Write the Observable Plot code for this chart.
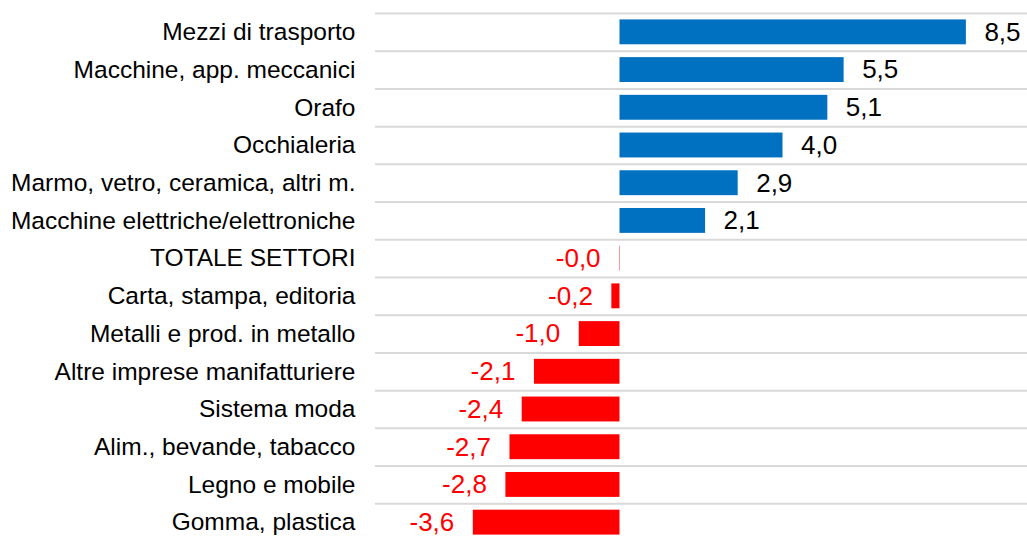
<!DOCTYPE html>
<html>
<head>
<meta charset="utf-8">
<script src="https://cdn.jsdelivr.net/npm/d3@7"></script>
<script src="https://cdn.jsdelivr.net/npm/@observablehq/plot@0.6"></script>
<style>
  html, body { margin: 0; padding: 0; background: #fff; overflow: hidden; }
  svg { display: block; }
</style>
</head>
<body>
<div id="chart"></div>
<script>
const categories = [
  "Mezzi di trasporto",
  "Macchine, app. meccanici",
  "Orafo",
  "Occhialeria",
  "Marmo, vetro, ceramica, altri m.",
  "Macchine elettriche/elettroniche",
  "TOTALE SETTORI",
  "Carta, stampa, editoria",
  "Metalli e prod. in metallo",
  "Altre imprese manifatturiere",
  "Sistema moda",
  "Alim., bevande, tabacco",
  "Legno e mobile",
  "Gomma, plastica"
];
const values = [8.5, 5.5, 5.1, 4.0, 2.9, 2.1, -0.01, -0.2, -1.0, -2.1, -2.4, -2.7, -2.8, -3.6];

const data = categories.map((c, i) => ({category: c, value: values[i]}));
const fmt = v => v.toFixed(1).replace(".", ",");
const blue = "#0070C0", red = "#FF0000";
const yTop = 13, yBottom = 541;
const step = (yBottom - yTop) / categories.length;

const chart = Plot.plot({
  width: 1027,
  height: 536,
  marginLeft: 375,
  marginRight: 0,
  marginTop: 13,
  marginBottom: 0,
  style: {fontFamily: "'Liberation Sans', Arial, sans-serif", fontSize: "24px", background: "#fff"},
  x: {domain: [-6, 10], axis: null},
  y: {domain: categories, range: [yTop, yBottom], round: false, paddingInner: 0.34, paddingOuter: 0.17, label: null, axis: null},
  marks: [
    Plot.ruleY(categories, {y: d => d, dy: -step / 2, stroke: "#d9d9d9", strokeWidth: 2}),
    Plot.barX(data, {x: "value", y: "category", fill: d => d.value >= 0 ? blue : red}),
    Plot.ruleX([0], {y1: yTop, y2: yBottom, stroke: "#d9d9d9", strokeWidth: 2.5}),
    Plot.axisY({tickSize: 0, tickPadding: 20, fontSize: 24.5, fill: "#000", label: null}),
    Plot.text(data.filter(d => d.value >= 0), {x: "value", y: "category", text: d => fmt(d.value), textAnchor: "start", dx: 18, fill: "#000", fontSize: 26}),
    Plot.text(data.filter(d => d.value < 0), {x: "value", y: "category", text: d => fmt(d.value), textAnchor: "end", dx: -19, fill: red, fontSize: 26})
  ]
});
document.getElementById("chart").appendChild(chart);
</script>
</body>
</html>
